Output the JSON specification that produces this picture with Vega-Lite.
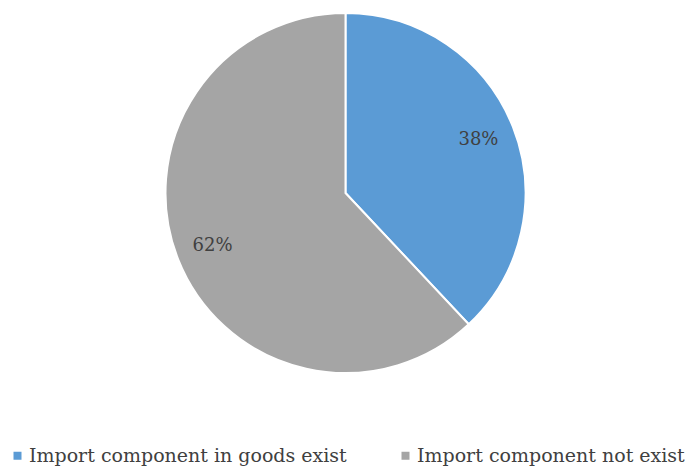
{
  "$schema": "https://vega.github.io/schema/vega-lite/v6.json",
  "width": 691,
  "height": 386,
  "autosize": "none",
  "padding": {"top": 0, "left": 0, "right": 0, "bottom": 82},
  "background": "white",
  "data": {
    "values": [
      {"category": "Import component in goods exist", "value": 38, "label": "38%"},
      {"category": "Import component not exist", "value": 62, "label": "62%"}
    ]
  },
  "encoding": {
    "theta": {"field": "value", "type": "quantitative", "stack": true}
  },
  "layer": [
    {
      "mark": {"type": "arc", "outerRadius": 180, "stroke": "white", "strokeWidth": 2},
      "encoding": {
        "color": {
          "field": "category",
          "type": "nominal",
          "scale": {"domain": ["Import component in goods exist", "Import component not exist"], "range": ["#5B9BD5", "#A5A5A5"]},
          "legend": {
            "title": null,
            "orient": "none",
            "legendX": 8,
            "legendY": 446,
            "direction": "horizontal",
            "symbolType": "square",
            "symbolSize": 64,
            "symbolStrokeWidth": 0,
            "labelFont": "DejaVu Serif",
            "labelFontSize": 19,
            "labelColor": "#404040",
            "labelLimit": 400,
            "labelOffset": 2,
            "columnPadding": 49
          }
        }
      }
    },
    {
      "mark": {"type": "text", "radius": 143, "font": "DejaVu Serif", "fontSize": 18, "fill": "#404040"},
      "encoding": {
        "detail": {"field": "category", "type": "nominal"},
        "text": {"field": "label", "type": "nominal"}
      }
    }
  ],
  "config": {"view": {"stroke": null}}
}
